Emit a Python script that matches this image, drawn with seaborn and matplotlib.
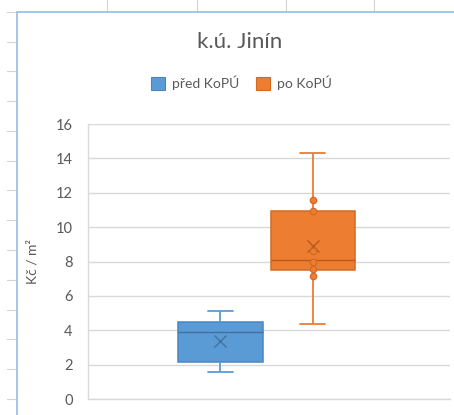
import matplotlib
matplotlib.use("Agg")
import matplotlib.pyplot as plt
import pandas as pd
import seaborn as sns
from matplotlib.lines import Line2D
from matplotlib.patches import Patch

# Price of land before / after the land consolidation (KoPÚ), Kč per m²
series = ["před KoPÚ", "po KoPÚ"]
# five-number summaries: minimum, Q1, median, Q3, maximum
pred_summary = [1.57, 2.15, 3.88, 4.48, 5.14]
po_summary = [4.35, 7.50, 8.09, 10.94, 14.29]
means = [3.39, 8.92]
po_inner_points = [7.17, 7.56, 7.95, 8.61, 10.94, 11.58]
y_ticks = [0, 2, 4, 6, 8, 10, 12, 14, 16]

fill_colors = ["#5B9BD5", "#ED7D31"]
edge_colors = ["#4A86C2", "#D26A25"]
dark_colors = ["#41719C", "#B85A1E"]
text_color = "#595959"
grid_color = "#D9D9D9"

sns.set_theme(style="white")
plt.rcParams["font.family"] = ["Lato", "DejaVu Sans"]

W, H = 454, 415
fig = plt.figure(figsize=(W / 100, H / 100), dpi=100)
ax = fig.add_axes([88 / W, 1 - 399 / H, (450 - 88) / W, (399 - 124) / H])

summaries = [pred_summary, po_summary]
for i, name in enumerate(series):
    df = pd.DataFrame({"skupina": [name] * len(summaries[i]), "hodnota": summaries[i]})
    sns.boxplot(
        data=df, x="skupina", y="hodnota", order=series,
        color=fill_colors[i], saturation=1, width=0.914, whis=(0, 100),
        linecolor=edge_colors[i], linewidth=1.1, capwidths=0.27,
        whiskerprops=dict(color=fill_colors[i], linewidth=1.3),
        capprops=dict(color=fill_colors[i], linewidth=1.3),
        medianprops=dict(color=dark_colors[i], linewidth=1.0),
        ax=ax,
    )

# inner data points of the second series
pts = pd.DataFrame({"skupina": [series[1]] * len(po_inner_points), "hodnota": po_inner_points})
sns.stripplot(
    data=pts, x="skupina", y="hodnota", order=series, jitter=False,
    color=fill_colors[1], size=4.6, edgecolor=edge_colors[1], linewidth=0.9, ax=ax,
)

# mean markers
for i, name in enumerate(series):
    mdf = pd.DataFrame({"skupina": [name], "hodnota": [means[i]]})
    sns.pointplot(
        data=mdf, x="skupina", y="hodnota", order=series, errorbar=None,
        color=dark_colors[i], marker="x", markersize=8.5, markeredgewidth=1.0,
        linestyle="none", ax=ax,
    )

ax.set_xlim(-1.426, 2.479)
ax.set_ylim(0, 16)
ax.set_yticks(y_ticks)
ax.set_yticklabels([str(t) for t in y_ticks])
ax.set_xticks([])
ax.set_xlabel("")
ax.set_ylabel("Kč / m²", fontsize=10, color=text_color)
ax.yaxis.set_label_coords((38 - 88) / (450 - 88), 0.5)
ax.tick_params(axis="y", length=0, pad=11, labelsize=10.5, labelcolor=text_color)
ax.grid(axis="y", color=grid_color, linewidth=1.0)
ax.set_axisbelow(True)
for side in ["top", "right"]:
    ax.spines[side].set_visible(False)
for side in ["left", "bottom"]:
    ax.spines[side].set_color(grid_color)
    ax.spines[side].set_linewidth(1.0)

fig.text(240 / W, 1 - 48 / H, "k.ú. Jinín", ha="center", va="baseline",
         fontsize=16, color=text_color)

handles = [Patch(facecolor=fill_colors[i], edgecolor=edge_colors[i], linewidth=0.8)
           for i in range(2)]
fig.legend(handles, series, loc="center", bbox_to_anchor=(0.532, 1 - 83 / H),
           ncol=2, frameon=False, handlelength=1.0, handleheight=1.0,
           handletextpad=0.5, columnspacing=1.2, fontsize=10, labelcolor=text_color)

# surrounding worksheet cells and the chart frame
cell_color = "#D4D4D4"
for x in [107, 197, 286, 374]:
    fig.add_artist(Line2D([x / W, x / W], [1, 1 - 12 / H], color=cell_color, linewidth=0.8))
for y in [42, 71, 101, 131, 161, 190, 220, 250, 280, 310, 339, 369, 399]:
    fig.add_artist(Line2D([7 / W, 16 / W], [1 - y / H, 1 - y / H], color=cell_color, linewidth=0.8))
fig.add_artist(Line2D([7 / W, 16 / W], [1 - 12 / H, 1 - 12 / H], color=cell_color, linewidth=0.8))
frame_color = "#9DC3E6"
fig.add_artist(Line2D([16.5 / W, 16.5 / W], [0, 1 - 12 / H], color=frame_color, linewidth=1.3))
fig.add_artist(Line2D([16.5 / W, 1], [1 - 12 / H, 1 - 12 / H], color=frame_color, linewidth=1.3))

fig.savefig("out.png", dpi=100)
